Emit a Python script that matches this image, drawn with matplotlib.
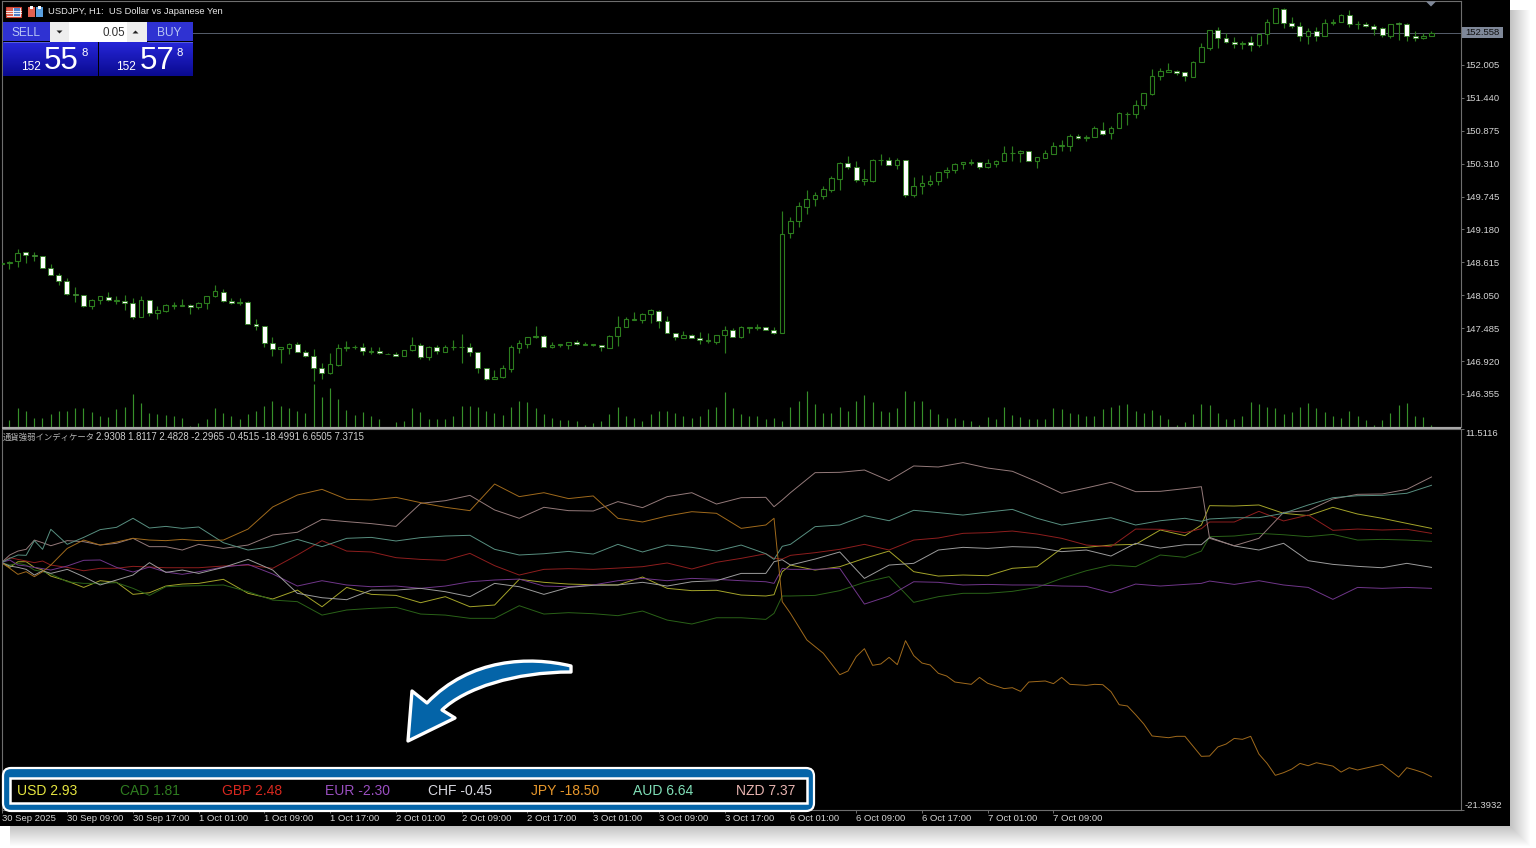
import matplotlib
matplotlib.use('Agg')
import matplotlib.pyplot as plt
import numpy as np
from matplotlib.patches import Rectangle, FancyBboxPatch, PathPatch, Polygon
from matplotlib.path import Path
from matplotlib.colors import LinearSegmentedColormap

plt.rcParams['font.family'] = ['Liberation Sans', 'DejaVu Sans']

# USDJPY H1 candles
opens = [148.58,148.60,148.63,148.79,148.75,148.72,148.51,148.40,148.29,148.08,148.05,147.86,147.97,148.02,147.96,147.96,147.91,147.68,147.97,147.74,147.78,147.86,147.86,147.89,147.84,147.91,148.03,148.11,147.95,147.92,147.93,147.56,147.53,147.23,147.12,147.15,147.21,147.08,147.00,146.80,146.71,146.85,147.15,147.16,147.17,147.07,147.09,147.05,147.04,
         147.00,147.11,147.19,146.99,147.16,147.08,147.16,147.16,147.16,147.08,146.80,146.62,146.64,146.79,147.15,147.22,147.33,147.35,147.17,147.19,147.20,147.24,147.20,147.19,147.19,147.15,147.35,147.51,147.63,147.63,147.72,147.78,147.60,147.41,147.32,147.37,147.32,147.26,147.25,147.36,147.45,147.33,147.49,147.49,147.50,147.45,
         147.40,149.12,149.32,149.57,149.71,149.76,149.86,150.05,150.32,150.25,150.02,150.01,150.37,150.37,150.28,150.37,149.78,149.92,149.96,150.02,150.16,150.20,150.30,150.32,150.33,150.25,150.30,150.36,150.49,150.50,150.52,150.36,150.41,150.48,150.62,150.61,150.79,150.75,150.77,
         150.89,150.83,150.93,151.16,151.17,151.32,151.51,151.82,151.89,151.90,151.88,151.80,152.06,152.30,152.60,152.47,152.40,152.36,152.40,152.34,152.54,152.73,152.97,152.73,152.68,152.50,152.58,152.51,152.73,152.75,152.86,152.71,152.71,152.68,152.64,152.51,152.72,152.70,152.51,152.46,152.50]
highs = [148.60,148.64,148.85,148.79,148.79,148.72,148.59,148.44,148.35,148.19,148.06,147.99,148.04,148.11,148.03,148.06,148.00,148.03,147.97,147.86,147.90,147.94,147.98,147.90,147.93,148.04,148.23,148.15,148.01,148.00,147.96,147.64,147.53,147.33,147.16,147.23,147.25,147.11,147.12,146.89,147.06,147.21,147.26,147.20,147.23,147.16,147.17,147.06,147.07,
         147.11,147.33,147.23,147.18,147.19,147.19,147.28,147.39,147.23,147.08,146.80,146.77,146.86,147.19,147.28,147.34,147.52,147.36,147.24,147.21,147.25,147.29,147.24,147.22,147.20,147.37,147.69,147.67,147.76,147.74,147.82,147.80,147.69,147.41,147.44,147.39,147.42,147.41,147.37,147.52,147.49,147.53,147.50,147.55,147.51,147.51,
         149.50,149.39,149.65,149.86,149.83,149.92,150.10,150.33,150.44,150.35,150.22,150.39,150.48,150.43,150.40,150.38,150.08,150.12,150.11,150.17,150.25,150.32,150.34,150.39,150.34,150.39,150.38,150.61,150.61,150.54,150.53,150.43,150.54,150.69,150.72,150.82,150.82,150.81,150.95,
         151.03,150.95,151.19,151.19,151.41,151.53,151.93,151.95,152.03,151.91,151.89,152.08,152.38,152.60,152.65,152.56,152.48,152.42,152.51,152.55,152.79,152.99,152.99,152.83,152.74,152.64,152.66,152.79,152.79,152.88,152.95,152.76,152.74,152.70,152.65,152.71,152.74,152.72,152.59,152.56,152.59]
lows = [148.58,148.50,148.54,148.60,148.63,148.51,148.39,148.22,148.06,147.94,147.84,147.82,147.90,147.96,147.90,147.80,147.65,147.67,147.70,147.65,147.77,147.82,147.86,147.73,147.82,147.81,148.02,147.94,147.90,147.88,147.55,147.46,147.16,147.01,146.89,147.05,147.07,146.99,146.58,146.62,146.70,146.84,147.10,147.13,147.03,147.05,147.04,147.04,147.00,
        147.00,147.09,146.95,146.93,147.04,147.07,147.11,146.89,147.00,146.72,146.60,146.62,146.63,146.73,147.06,147.14,147.32,147.16,147.14,147.17,147.13,147.19,147.19,147.18,147.09,147.15,147.18,147.50,147.62,147.57,147.57,147.49,147.41,147.28,147.31,147.31,147.21,147.23,147.21,147.06,147.33,147.32,147.40,147.46,147.45,147.39,
        147.40,149.04,149.23,149.45,149.58,149.71,149.82,149.85,150.22,150.00,149.95,149.99,150.29,150.28,150.21,149.74,149.74,149.79,149.92,149.95,150.07,150.15,150.22,150.28,150.21,150.24,150.26,150.35,150.36,150.34,150.36,150.24,150.40,150.48,150.53,150.52,150.73,150.70,150.76,
        150.80,150.73,150.92,150.97,151.10,151.25,151.49,151.75,151.88,151.83,151.73,151.79,152.06,152.26,152.29,152.39,152.30,152.28,152.24,152.32,152.36,152.72,152.64,152.64,152.42,152.36,152.42,152.51,152.69,152.74,152.65,152.63,152.65,152.52,152.49,152.46,152.44,152.41,152.41,152.45,152.50]
closes = [148.60,148.62,148.78,148.75,148.72,148.51,148.40,148.29,148.07,148.05,147.86,147.97,148.03,147.97,147.97,147.91,147.68,147.97,147.74,147.79,147.88,147.88,147.88,147.84,147.91,148.03,148.12,147.95,147.92,147.93,147.55,147.53,147.23,147.12,147.16,147.21,147.07,147.00,146.80,146.72,146.87,147.15,147.16,147.17,147.09,147.09,147.06,147.04,147.01,
          147.11,147.19,146.99,147.17,147.09,147.17,147.17,147.17,147.08,146.80,146.62,146.64,146.80,147.17,147.23,147.33,147.35,147.17,147.19,147.21,147.24,147.21,147.21,147.21,147.16,147.35,147.51,147.65,147.65,147.72,147.79,147.60,147.41,147.33,147.37,147.32,147.28,147.28,147.36,147.45,147.33,147.50,147.50,147.51,147.46,147.40,
          149.11,149.33,149.58,149.71,149.77,149.87,150.06,150.32,150.25,150.03,150.04,150.37,150.38,150.28,150.37,149.78,149.92,149.97,150.02,150.16,150.20,150.30,150.33,150.34,150.25,150.32,150.36,150.49,150.50,150.53,150.36,150.42,150.49,150.62,150.63,150.79,150.75,150.76,150.92,
          150.82,150.93,151.18,151.17,151.32,151.52,151.82,151.90,151.91,151.87,151.81,152.05,152.31,152.60,152.47,152.40,152.36,152.39,152.34,152.54,152.74,152.98,152.72,152.68,152.50,152.58,152.51,152.72,152.75,152.87,152.71,152.71,152.68,152.63,152.52,152.71,152.70,152.51,152.46,152.50,152.56]
volumes = [200,400,1160,940,520,560,760,940,940,1140,1140,880,640,620,1060,1180,1980,1460,820,760,740,680,560,80,260,460,1120,860,680,500,760,980,1260,1580,1240,1120,940,840,2580,1780,2320,1700,1000,700,880,680,500,20,280,
           380,1120,880,500,460,500,640,1240,1240,1180,980,820,740,1200,1580,1480,1140,780,520,400,400,380,100,220,340,780,1180,640,560,380,760,940,940,860,640,520,680,1060,1220,2080,1140,760,640,640,460,520,380,
           1200,1580,2140,1400,820,860,1220,940,1540,1900,1480,940,880,1140,2160,1540,1580,1100,760,560,520,440,340,120,580,500,1200,700,580,500,500,500,1160,1060,820,760,680,680,1060,1180,1340,1380,980,860,1000,740,500,140,300,800,1400,1300,820,460,500,640,1480,1380,1220,1160,760,920,1220,1440,1160,880,640,540,940,680,440,120,440,860,1340,1440,680,620,120]

price_ticks = [152.005,151.440,150.875,150.310,149.745,149.180,148.615,148.050,147.485,146.920,146.355]
last_price = 152.558

time_labels = ['30 Sep 2025','30 Sep 09:00','30 Sep 17:00','1 Oct 01:00','1 Oct 09:00','1 Oct 17:00','2 Oct 01:00','2 Oct 09:00','2 Oct 17:00',
               '3 Oct 01:00','3 Oct 09:00','3 Oct 17:00','6 Oct 01:00','6 Oct 09:00','6 Oct 17:00','7 Oct 01:00','7 Oct 09:00']

# currency strength indicator, vertices read at these bars
line_bars = [0,1,2,3,4,5,6,8,10,12,14,16,18,20,22,24,27,30,33,36,39,42,45,48,
             51,54,57,60,63,66,69,72,75,78,81,84,87,90,93,94,95,96,
             99,102,105,108,111,114,117,120,123,126,129,132,135,138,141,
             144,146,147,150,153,156,159,162,165,168,171,174]
usd = [-0.03,-0.44,0.05,0.05,-0.44,-0.67,-1.19,-1.62,-2.17,-1.59,-1.73,-2.77,-2.63,-2.05,-1.88,-1.82,-1.47,-2.68,-3.17,-2.40,-3.84,-2.17,-2.77,-2.86,
       -3.49,-2.97,-3.84,-3.69,-1.47,-1.73,-1.88,-1.94,-1.96,-1.27,-2.25,-2.45,-2.42,-2.83,-2.91,-2.80,-0.81,-0.24,
       -0.67,-0.38,0.34,0.97,-0.81,-1.19,-1.10,-1.16,-0.52,-0.38,1.20,1.29,1.49,1.55,2.79,
       2.30,3.22,4.89,4.86,4.95,4.23,4.03,4.75,4.17,3.80,3.36,2.93]
cad = [-0.03,-0.24,-0.09,-0.24,-0.67,-0.81,-1.01,-1.68,-1.82,-1.82,-1.76,-2.25,-2.86,-2.11,-2.05,-2.02,-1.96,-2.54,-3.26,-3.40,-4.56,-4.12,-3.98,-3.89,
       -4.47,-4.56,-4.84,-4.84,-3.75,-4.47,-4.35,-4.44,-4.61,-4.21,-4.99,-5.33,-4.79,-4.79,-4.93,-4.41,-2.91,-2.91,
       -2.86,-2.45,-1.73,-1.24,-3.46,-2.97,-2.68,-2.68,-2.51,-2.17,-1.39,-0.73,-0.24,-0.38,0.63,
       0.43,0.97,2.21,2.27,2.50,2.38,2.21,2.41,1.92,1.98,1.92,1.81]
gbp = [-0.03,0.40,0.25,0.11,-0.03,0.11,-0.24,-0.44,-0.73,-0.52,-0.52,-0.35,-0.41,-0.47,-0.47,-0.47,-0.32,-0.24,-0.52,0.63,1.87,0.97,0.89,0.40,
       0.25,0.17,0.77,-0.29,-1.10,-0.61,-0.55,-0.61,-0.50,-0.38,-0.06,-0.58,0.00,0.34,0.74,0.34,0.28,0.60,
       0.83,1.12,1.55,1.06,1.92,2.10,2.50,2.56,2.70,2.44,2.07,1.49,1.35,2.87,2.85,
       2.56,2.90,3.48,3.48,4.40,3.57,4.08,2.76,2.87,2.79,2.85,2.50]
eur = [-0.03,0.20,-0.24,-0.32,-0.44,-0.55,-0.67,-0.32,0.17,0.20,-0.44,-0.84,-0.41,-0.84,-1.04,-0.81,-0.41,-0.18,-1.01,-2.05,-1.59,-1.96,-2.11,-2.05,
       -2.25,-2.05,-1.68,-1.53,-1.45,-2.05,-2.11,-1.96,-1.59,-1.39,-1.59,-1.39,-1.47,-1.59,-1.68,-1.82,-0.52,-0.61,
       -0.61,-0.52,-3.61,-2.91,-1.68,-1.73,-1.96,-1.91,-1.96,-1.96,-2.05,-2.08,-2.63,-1.88,-2.05,
       -1.91,-1.82,-1.62,-1.91,-1.59,-1.96,-2.17,-3.20,-2.17,-2.25,-2.17,-2.25]
chf = [-0.03,-0.32,-0.44,-0.61,-1.10,-0.73,-0.96,-0.61,-1.24,-1.96,-1.53,-1.10,-0.03,-0.87,-0.67,-0.96,-0.44,0.25,-0.67,-2.68,-3.06,-3.23,-2.40,-2.40,
       -2.25,-2.54,-2.97,-1.82,-2.11,-2.77,-2.17,-1.99,-1.96,-1.73,-2.05,-1.68,-1.59,-0.96,-0.96,0.05,0.22,-0.24,
       0.28,0.89,-1.39,-0.24,-0.09,1.06,1.29,1.20,1.35,1.29,0.92,1.06,0.54,1.64,1.23,
       1.52,1.52,2.15,1.41,1.06,1.64,0.14,-0.18,-0.35,-0.47,-0.09,-0.44]
aud = [-0.03,0.34,0.63,0.60,1.87,1.12,2.85,1.55,2.15,2.82,3.02,3.80,2.96,3.10,2.93,3.05,1.69,1.06,1.35,1.98,1.35,2.07,2.15,1.84,
       2.13,2.27,2.33,1.12,0.63,0.74,0.94,0.71,1.55,0.89,1.49,1.29,0.97,1.49,0.74,0.25,1.38,1.55,
       3.08,3.22,4.03,3.59,4.49,4.29,4.08,4.34,4.57,3.80,3.22,3.54,3.85,3.22,3.59,
       3.80,3.54,3.74,3.85,3.85,4.23,4.95,5.58,5.75,5.78,5.96,6.65]
nzd = [-0.03,0.63,0.97,1.12,1.92,1.69,1.43,1.87,1.78,1.49,1.64,2.07,1.35,1.35,1.06,1.55,1.20,1.49,2.36,2.59,3.71,3.51,3.34,3.10,
       5.09,5.32,5.78,4.52,3.80,4.75,4.46,4.43,5.24,4.72,5.67,6.01,5.03,5.58,5.61,4.80,5.38,6.01,
       7.74,7.77,7.97,7.05,8.32,8.23,8.61,8.14,7.86,6.96,5.96,6.42,6.91,6.10,6.13,
       6.36,6.53,2.07,1.43,2.07,4.31,4.46,5.47,5.87,5.90,6.30,7.37]
# JPY moves a lot more, so it has its own finer list
jpy_bars = [0,1,2,3,4,5,6,8,10,12,14,16,18,20,22,24,27,30,33,36,39,42,45,48,
            51,54,57,60,63,66,69,72,75,78,81,84,87,90,93,94,95,
            96,97,98,100,102,103,104,105,106,107,108,109,110,111,112,113,114,115,116,118,119,120,122,123,124,125,127,128,129,130,132,133,134,135,136,137,138,139,140,
            142,143,144,146,147,148,149,150,151,152,153,154,155,156,157,158,159,160,162,163,164,165,168,170,171,172,173,174]
jpy = [-0.03,-0.52,-1.04,-0.81,-1.24,-0.81,-0.24,1.20,1.92,1.49,1.75,2.07,1.92,1.87,1.98,1.87,1.92,2.87,4.78,5.81,6.30,5.44,5.38,5.61,
       5.15,4.75,4.46,6.76,5.67,6.01,5.50,5.73,3.80,3.48,4.00,4.37,4.23,2.93,3.22,3.80,-3.40,
       -4.41,-5.56,-6.71,-7.86,-9.71,-9.39,-8.15,-7.46,-8.90,-8.78,-8.21,-8.84,-6.77,-8.06,-8.70,-8.87,-9.59,-9.82,-10.34,-10.54,-9.94,-10.45,-10.91,-10.83,-11.15,-10.34,-10.25,-10.48,-9.94,-10.54,-10.63,-10.54,-10.57,-11.17,-12.30,-12.41,-13.16,-13.97,-15.00,
       -15.15,-15.03,-15.03,-16.76,-16.73,-15.95,-15.70,-15.21,-15.29,-15.03,-16.56,-17.37,-18.40,-18.17,-17.86,-17.37,-17.57,-17.31,-17.60,-18.12,-17.74,-17.94,-17.45,-18.55,-17.74,-17.94,-18.17,-18.52]

indicator_ticks = [11.5116,-21.3932]
indicator_name = '通貨強弱インディケータ'
buffer_values = '2.9308 1.8117 2.4828 -2.2965 -0.4515 -18.4991 6.6505 7.3715'

currencies = ['USD','CAD','GBP','EUR','CHF','JPY','AUD','NZD']
legend_values = ['2.93','1.81','2.48','-2.30','-0.45','-18.50','6.64','7.37']
legend_colors = ['#e6e640','#2f7d20','#d8281f','#9a4fc0','#d8d8e0','#e8982c','#80e0b8','#e8b4b0']

W, H = 1536, 848
GREEN = '#2c7d1e'
GREY = '#6e6e6e'
LABEL = '#d4d4d4'
FS = 6.8


def px_axes(left, top, right, bottom, **kw):
    return fig.add_axes([left/W, 1-bottom/H, (right-left)/W, (bottom-top)/H], **kw)


def bar_x(px):
    return (px-1.2)/8.22


fig = plt.figure(figsize=(W/100, H/100), dpi=100, facecolor='white')

# background, shadow and black chart area
bg = px_axes(0, 0, W, H, zorder=0)
bg.set_xlim(0, W)
bg.set_ylim(H, 0)
bg.axis('off')
for k in range(20, 0, -1):
    bg.add_patch(Rectangle((10, 10), 1500+k, 816+k, fc='black', ec='none', alpha=0.012))
bg.add_patch(Rectangle((0, 0), 1510, 826, fc='black', ec='none'))

# price pane
ax = px_axes(1.5, 1, 1461, 427, zorder=2)
ax.set_facecolor('black')
ax.set_xlim(bar_x(1.5), bar_x(1461))
ax.set_ylim(145.788, 153.103)

vol_ax = px_axes(1.5, 1, 1461, 427, zorder=1)
vol_ax.set_xlim(bar_x(1.5), bar_x(1461))
vol_ax.set_ylim(0, 60*426)
vol_ax.axis('off')
ax.patch.set_alpha(0)

bars = np.arange(len(opens))
o = np.array(opens)
c = np.array(closes)
vol_ax.vlines(bars, 0, volumes, color='#37902a', lw=0.85)
ax.vlines(bars, lows, highs, color=GREEN, lw=0.85, zorder=2)
up = c >= o
ax.bar(bars[up], (c-o)[up], bottom=o[up], width=0.56, fc='black', ec=GREEN, lw=0.8, zorder=3)
ax.bar(bars[~up], (o-c)[~up], bottom=c[~up], width=0.6, fc='white', ec=GREEN, lw=0.6, zorder=3)
ax.axhline(last_price, color='#565e6c', lw=0.7, zorder=1)

ax.yaxis.tick_right()
ax.set_yticks(price_ticks, [f'{v:.3f}' for v in price_ticks])
ax.tick_params(axis='y', colors=GREY, labelcolor=LABEL, labelsize=FS, length=2.2, width=0.7, pad=0.6)
ax.set_xticks([])
for s in ax.spines.values():
    s.set_color(GREY)
    s.set_linewidth(0.8)

# indicator pane
ind = px_axes(1.5, 429, 1461, 810, zorder=2)
ind.set_facecolor('black')
ind.set_xlim(bar_x(1.5), bar_x(1461))
ind.set_ylim(indicator_ticks[1], indicator_ticks[0])
for vals, col in zip([usd, cad, gbp, eur, chf, nzd, aud], ['#a4a42a','#2a6218','#8e1e1e','#70368a','#9c9c9c','#947a7a','#588f80']):
    ind.plot(line_bars, vals, color=col, lw=0.7)
ind.plot(jpy_bars, jpy, color='#a06a1c', lw=0.7)

ind.yaxis.tick_right()
ind.set_yticks(indicator_ticks, [f'{v:.4f}' for v in indicator_ticks])
ind.tick_params(axis='y', colors=GREY, labelcolor=LABEL, labelsize=FS, length=2.2, width=0.7, pad=0.6)
labs = ind.get_yticklabels()
labs[0].set_va('top')
labs[1].set_va('bottom')
ind.set_xticks(np.arange(len(time_labels))*8, time_labels, ha='left')
ind.tick_params(axis='x', colors=GREY, labelcolor=LABEL, labelsize=FS, length=2.2, width=0.7, pad=0.4)
for s in ind.spines.values():
    s.set_color(GREY)
    s.set_linewidth(0.8)

# everything drawn on top, in pixel coordinates
fg = px_axes(0, 0, W, H, zorder=5)
fg.patch.set_alpha(0)
fg.axis('off')

fg.plot([2, 1461], [427.5, 427.5], color='#a8a8a8', lw=1.5, solid_capstyle='butt')

# last price tag and the small marker at the top
fg.add_patch(Rectangle((1462, 27), 41, 11, fc='#7f8899', ec='none'))
fg.text(1465, 32.8, f'{last_price:.3f}', color='#101010', fontsize=FS, va='center')
fg.add_patch(Polygon([[1426, 1.5], [1436, 1.5], [1431, 6.5]], fc='#7f8899', ec='none'))

# title and icons
fg.add_patch(Rectangle((6, 7), 15, 10, fc='#e8e8f0', ec='#d04030', lw=0.8))
fg.add_patch(Rectangle((7, 8), 6, 8, fc='#d86050', ec='none'))
fg.add_patch(Rectangle((14, 8), 6, 8, fc='#5080c8', ec='none'))
for yy in (10.5, 13):
    fg.plot([6, 21], [yy, yy], color='white', lw=0.6)
fg.add_patch(Rectangle((28, 7), 7, 10, fc='#e06050', ec='none'))
fg.add_patch(Rectangle((36, 7), 7, 10, fc='#5aa0e0', ec='none'))
fg.add_patch(Rectangle((30, 6), 3, 3, fc='white', ec='none'))
fg.add_patch(Rectangle((38, 6), 3, 3, fc='white', ec='none'))
fg.text(48, 12, 'USDJPY, H1:  US Dollar vs Japanese Yen', color='#e8e8e8', fontsize=6.75, va='center')

# one click trading panel
blue_map = LinearSegmentedColormap.from_list('panel', ['#2626d8', '#0a0a90'])
for x0, x1 in ((3, 97.5), (99, 192.5)):
    fg.imshow(np.linspace(0, 1, 40)[:, None], cmap=blue_map, aspect='auto', extent=(x0, x1, 76, 42.5), zorder=2)
for x0, x1, name in ((3, 49.5, 'SELL'), (146.5, 192.5, 'BUY')):
    fg.add_patch(Rectangle((x0, 22), x1-x0, 19, fc='#2f32d2', ec='none', zorder=2))
    fg.plot([x0+1, x1-1], [41.8, 41.8], color='#5a60e0', lw=0.7, zorder=3)
    fg.text((x0+x1)/2, 32.5, name, color='#b8c6f4', fontsize=8.6, ha='center', va='center', zorder=3)
fg.add_patch(Rectangle((50, 22), 96.5, 19.5, fc='white', ec='none', zorder=2))
fg.add_patch(Rectangle((50, 22), 19, 19.5, fc='#eeeeee', ec='none', zorder=2))
fg.add_patch(Rectangle((127, 22), 19.5, 19.5, fc='#eeeeee', ec='none', zorder=2))
fg.add_patch(Polygon([[56.5, 30.5], [62.5, 30.5], [59.5, 33.5]], fc='#222222', ec='none', zorder=3))
fg.add_patch(Polygon([[132.5, 33.5], [138.5, 33.5], [135.5, 30.5]], fc='#222222', ec='none', zorder=3))
fg.text(125, 32.5, '0.05', color='#333333', fontsize=8.4, ha='right', va='center', zorder=3)
for dx, big in ((0, '55'), (95.5, '57')):
    fg.text(21+dx, 66.5, '152', color='white', fontsize=8.6, va='center', zorder=3)
    fg.text(44+dx, 61, big, color='white', fontsize=22.5, va='center', zorder=3)
    fg.text(81+dx, 53, '8', color='white', fontsize=8.2, va='center', zorder=3)

# indicator name
fg.text(3, 437.5, indicator_name, color='#b4b4b4', fontsize=6, va='center',
        family=['Noto Sans CJK JP', 'DejaVu Sans'])
fg.text(96, 437.5, buffer_values, color='#d0d0d0', fontsize=6.9, va='center')

# highlight box
fg.add_patch(FancyBboxPatch((3, 768), 811, 43, boxstyle='round,pad=0,rounding_size=8', fc='#0464a8', ec='white', lw=1.6, zorder=3))
fg.add_patch(Rectangle((10, 777.5), 797, 25.5, fc='black', ec='white', lw=1.8, zorder=4))
legend_x = np.linspace(17, 736, len(currencies))
for xp, cur, val, col in zip(legend_x, currencies, legend_values, legend_colors):
    fg.text(xp, 791, f'{cur} {val}', color=col, fontsize=10, va='center', zorder=5)

# curved arrow pointing at the box
verts = [(571, 666), (530, 656), (470, 658), (427, 703), (412, 691), (408, 741), (455, 718), (442, 710),
         (465, 688), (515, 672), (571, 672), (571, 666)]
codes = [Path.MOVETO, Path.CURVE4, Path.CURVE4, Path.CURVE4, Path.LINETO, Path.LINETO, Path.LINETO, Path.LINETO,
         Path.CURVE4, Path.CURVE4, Path.CURVE4, Path.CLOSEPOLY]
fg.add_patch(PathPatch(Path(verts, codes), fc='#0464a8', ec='white', lw=2.4, joinstyle='round', zorder=4))

fg.set_xlim(0, W)
fg.set_ylim(H, 0)

fig.savefig('out.png', dpi=100)
